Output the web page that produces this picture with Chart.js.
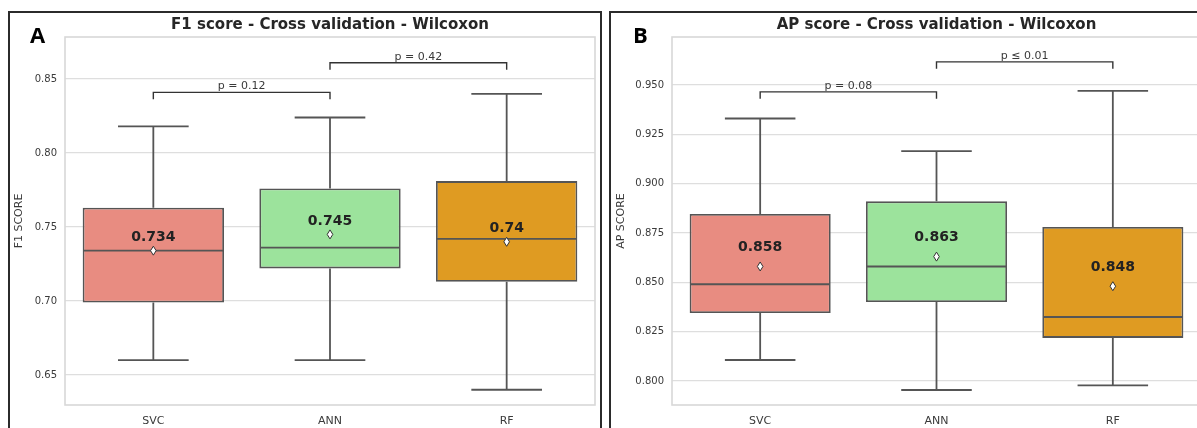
<!DOCTYPE html>
<html lang="en">
  <head>
    <meta charset="utf-8" />
    <title>F1 / AP score - Cross validation - Wilcoxon</title>
    <script src="https://cdn.jsdelivr.net/npm/chart.js@4/dist/chart.umd.min.js"></script>
    <style>
      body {
        margin: 0;
        width: 1197px;
        height: 428px;
        overflow: hidden;
        background: #fff;
        position: relative;
      }
      .frame {
        position: absolute;
        border: 2px solid #2b2b2b;
      }
      #frameA { left: 8px; top: 11px; width: 590px; height: 440px; }
      #frameB { left: 609px; top: 11px; width: 620px; height: 440px; }
      canvas { position: absolute; top: 0; }
      #chartA { left: 0; }
      #chartB { left: 597px; }
    </style>
  </head>
  <body>
    <div class="frame" id="frameA"></div>
    <div class="frame" id="frameB"></div>
    <canvas id="chartA" width="600" height="428"></canvas>
    <canvas id="chartB" width="610" height="428"></canvas>
    <script>
      const models = ["SVC", "ANN", "RF"];
      const boxColors = ["#e88c81", "#9ce39c", "#df9b22"];

      // F1 score (panel A)
      const f1Low = [0.660, 0.660, 0.640];
      const f1Q1 = [0.699, 0.722, 0.713];
      const f1Median = [0.734, 0.736, 0.742];
      const f1Q3 = [0.763, 0.776, 0.781];
      const f1High = [0.818, 0.824, 0.840];
      const f1Mean = [0.734, 0.745, 0.740];
      const f1Ticks = [0.65, 0.70, 0.75, 0.80, 0.85];
      const f1Pairs = [[0, 1], [1, 2]];
      const f1PLabels = ["p = 0.12", "p = 0.42"];
      const f1PLevels = [0.841, 0.861];

      // AP score (panel B)
      const apLow = [0.8106, 0.7954, 0.7977];
      const apQ1 = [0.8344, 0.840, 0.8218];
      const apMedian = [0.849, 0.858, 0.8324];
      const apQ3 = [0.8846, 0.891, 0.878];
      const apHigh = [0.933, 0.9165, 0.947];
      const apMean = [0.858, 0.863, 0.848];
      const apTicks = [0.800, 0.825, 0.850, 0.875, 0.900, 0.925, 0.950];
      const apPairs = [[0, 1], [1, 2]];
      const apPLabels = ["p = 0.08", "p \u2264 0.01"];
      const apPLevels = [0.9465, 0.9617];

      const edge = "#555";
      const textColor = "#3a3a3a";
      const font = "DejaVu Sans";

      // whiskers, medians, means and the p-value brackets
      const boxExtras = {
        id: "boxExtras",
        beforeDatasetsDraw(chart, args, o) {
          const { ctx, chartArea: a, scales: { x, y } } = chart;
          ctx.save();
          ctx.strokeStyle = "#d8d8d8";
          ctx.lineWidth = 1.6;
          ctx.strokeRect(a.left, a.top, a.right - a.left, a.bottom - a.top);
          ctx.strokeStyle = edge;
          ctx.lineWidth = 1.8;
          o.low.forEach((lo, i) => {
            const cx = x.getPixelForValue(i);
            const capL = x.getPixelForValue(i - 0.2);
            const capR = x.getPixelForValue(i + 0.2);
            const yLo = y.getPixelForValue(lo);
            const yHi = y.getPixelForValue(o.high[i]);
            ctx.beginPath();
            ctx.moveTo(cx, y.getPixelForValue(o.q1[i]));
            ctx.lineTo(cx, yLo);
            ctx.moveTo(capL, yLo);
            ctx.lineTo(capR, yLo);
            ctx.moveTo(cx, y.getPixelForValue(o.q3[i]));
            ctx.lineTo(cx, yHi);
            ctx.moveTo(capL, yHi);
            ctx.lineTo(capR, yHi);
            ctx.stroke();
          });
          ctx.restore();
        },
        afterDatasetsDraw(chart, args, o) {
          const { ctx, scales: { x, y } } = chart;
          ctx.save();
          o.median.forEach((m, i) => {
            const ym = y.getPixelForValue(m);
            ctx.strokeStyle = edge;
            ctx.lineWidth = 1.8;
            ctx.beginPath();
            ctx.moveTo(x.getPixelForValue(i - 0.4) + 1, ym);
            ctx.lineTo(x.getPixelForValue(i + 0.4) - 1, ym);
            ctx.stroke();
          });
          o.mean.forEach((m, i) => {
            const cx = x.getPixelForValue(i);
            const ym = y.getPixelForValue(m);
            ctx.beginPath();
            ctx.moveTo(cx, ym - 4.5);
            ctx.lineTo(cx + 2.8, ym);
            ctx.lineTo(cx, ym + 4.5);
            ctx.lineTo(cx - 2.8, ym);
            ctx.closePath();
            ctx.fillStyle = "#fff";
            ctx.fill();
            ctx.strokeStyle = "#333";
            ctx.lineWidth = 1;
            ctx.stroke();
            ctx.fillStyle = "#222";
            ctx.font = "bold 14px '" + font + "'";
            ctx.textAlign = "center";
            ctx.textBaseline = "middle";
            ctx.fillText(String(+m.toFixed(3)), cx, ym - o.labelGap);
          });
          ctx.strokeStyle = "#333";
          ctx.lineWidth = 1.4;
          ctx.fillStyle = textColor;
          ctx.font = "11px '" + font + "'";
          ctx.textAlign = "center";
          ctx.textBaseline = "alphabetic";
          o.pairs.forEach(([i, j], k) => {
            const x1 = x.getPixelForValue(i);
            const x2 = x.getPixelForValue(j);
            const yb = y.getPixelForValue(o.levels[k]);
            ctx.beginPath();
            ctx.moveTo(x1, yb + 7);
            ctx.lineTo(x1, yb);
            ctx.lineTo(x2, yb);
            ctx.lineTo(x2, yb + 7);
            ctx.stroke();
            ctx.fillText(o.pLabels[k], (x1 + x2) / 2, yb - 3);
          });
          ctx.restore();
        },
        afterDraw(chart, args, o) {
          const { ctx, chartArea: a } = chart;
          ctx.save();
          ctx.fillStyle = "#262626";
          ctx.font = "bold 15px '" + font + "'";
          ctx.textAlign = "center";
          ctx.textBaseline = "middle";
          ctx.fillText(o.title, (a.left + a.right) / 2, 25.5);
          ctx.fillStyle = "#000";
          ctx.font = "bold 22px 'Open Sans'";
          ctx.textAlign = "left";
          ctx.textBaseline = "alphabetic";
          ctx.fillText(o.letter, o.letterX, 43);
          ctx.restore();
        },
      };

      function buildChart(id, cfg) {
        return new Chart(document.getElementById(id), {
          type: "bar",
          data: {
            labels: models,
            datasets: [
              {
                data: cfg.q1.map((v, i) => [v, cfg.q3[i]]),
                backgroundColor: boxColors,
                borderColor: edge,
                borderWidth: 1.8,
                borderSkipped: false,
                categoryPercentage: 0.8,
                barPercentage: 1,
              },
            ],
          },
          options: {
            responsive: false,
            animation: false,
            layout: { padding: { left: 0, top: 37, right: cfg.padRight, bottom: 0 } },
            plugins: {
              legend: { display: false },
              tooltip: { enabled: false },
              boxExtras: cfg.extras,
            },
            scales: {
              x: {
                grid: { display: false },
                border: { display: false },
                ticks: { color: textColor, font: { family: font, size: 11 }, padding: 2 },
                afterFit: (s) => { s.height = 23; },
              },
              y: {
                min: cfg.min,
                max: cfg.max,
                grid: { color: "#dedede", lineWidth: 1.2, drawTicks: false },
                border: { display: false },
                ticks: {
                  color: textColor,
                  font: { family: font, size: 10 },
                  padding: 8,
                  callback: (v) => v.toFixed(cfg.digits),
                },
                afterBuildTicks: (s) => { s.ticks = cfg.ticks.map((v) => ({ value: v })); },
                afterFit: (s) => { s.width = cfg.axisWidth; },
                title: {
                  display: true,
                  text: cfg.yTitle,
                  color: textColor,
                  font: { family: font, size: 11 },
                  padding: { top: cfg.titlePad, bottom: 0 },
                },
              },
            },
          },
          plugins: [boxExtras],
        });
      }

      buildChart("chartA", {
        q1: f1Q1, q3: f1Q3, min: 0.6297, max: 0.8784, digits: 2, ticks: f1Ticks,
        axisWidth: 65, padRight: 5, titlePad: 13, yTitle: "F1 SCORE",
        extras: {
          low: f1Low, high: f1High, q1: f1Q1, q3: f1Q3, median: f1Median, mean: f1Mean,
          pairs: f1Pairs, pLabels: f1PLabels, levels: f1PLevels, labelGap: 13,
          title: "F1 score - Cross validation - Wilcoxon", letter: "A", letterX: 30,
        },
      });

      buildChart("chartB", {
        q1: apQ1, q3: apQ3, min: 0.7878, max: 0.9743, digits: 3, ticks: apTicks,
        axisWidth: 75, padRight: 6, titlePad: 18, yTitle: "AP SCORE",
        extras: {
          low: apLow, high: apHigh, q1: apQ1, q3: apQ3, median: apMedian, mean: apMean,
          pairs: apPairs, pLabels: apPLabels, levels: apPLevels, labelGap: 19,
          title: "AP score - Cross validation - Wilcoxon", letter: "B", letterX: 36,
        },
      });
    </script>
  </body>
</html>
